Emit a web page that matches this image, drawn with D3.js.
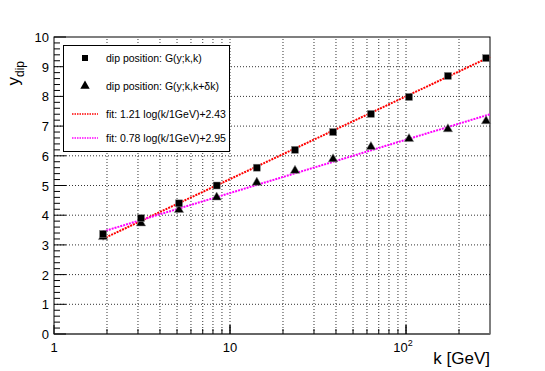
<!DOCTYPE html>
<html>
<head>
<meta charset="utf-8">
<script src="https://cdn.jsdelivr.net/npm/d3@7"></script>
<style>
  body { margin: 0; background: #fff; }
  svg { font-family: "Liberation Sans", Arial, sans-serif; }
</style>
</head>
<body>
<div id="chart"></div>
<script>
// data
const kValues = [1.9, 3.12, 5.13, 8.4, 14.2, 23.4, 38.5, 63.2, 104, 173, 285];
const yDipSame = [3.37, 3.9, 4.4, 5.0, 5.6, 6.2, 6.8, 7.41, 7.98, 8.69, 9.29];
const yDipShift = [3.27, 3.73, 4.18, 4.6, 5.1, 5.5, 5.89, 6.3, 6.57, 6.9, 7.17];
const errSame = [0.08, 0.06, 0.05, 0.04, 0.04, 0.04, 0.04, 0.04, 0.04, 0.04, 0.04];
const errShift = [0.08, 0.06, 0.05, 0.04, 0.04, 0.04, 0.04, 0.04, 0.04, 0.04, 0.04];
const fitSame = {a: 1.21, b: 2.43};
const fitShift = {a: 0.78, b: 2.95};
const legendLabels = [
  "dip position: G(y;k,k)",
  "dip position: G(y;k,k+\u03b4k)",
  "fit: 1.21 log(k/1GeV)+2.43",
  "fit: 0.78 log(k/1GeV)+2.95"
];
const yTicks = [0, 1, 2, 3, 4, 5, 6, 7, 8, 9, 10];

const W = 545, H = 371;
const margin = {top: 37, right: 55, bottom: 37, left: 54};

const svg = d3.select("#chart").append("svg")
  .attr("width", W).attr("height", H);

const x = d3.scaleLog().domain([1, 300]).range([margin.left, W - margin.right]);
const y = d3.scaleLinear().domain([0, 10]).range([H - margin.bottom, margin.top]);

const x0 = margin.left, x1 = W - margin.right, y0 = H - margin.bottom, y1 = margin.top;

// grid
const gridX = [];
for (let d = 1; d <= 100; d *= 10) {
  for (let m = 1; m <= 9; m++) {
    const v = d * m;
    if (v > 1 && v < 300) gridX.push(v);
  }
}
svg.append("g").selectAll("line").data(gridX).join("line")
  .attr("x1", d => x(d)).attr("x2", d => x(d))
  .attr("y1", y0).attr("y2", y1)
  .attr("stroke", "#333").attr("stroke-width", 1)
  .attr("stroke-dasharray", "1,2");
svg.append("g").selectAll("line").data(yTicks.filter(d => d > 0 && d < 10)).join("line")
  .attr("x1", x0).attr("x2", x1)
  .attr("y1", d => y(d)).attr("y2", d => y(d))
  .attr("stroke", "#333").attr("stroke-width", 1)
  .attr("stroke-dasharray", "1,2");

// frame
svg.append("rect")
  .attr("x", x0).attr("y", y1)
  .attr("width", x1 - x0).attr("height", y0 - y1)
  .attr("fill", "none").attr("stroke", "#000").attr("stroke-width", 1);
svg.append("line")
  .attr("x1", x0).attr("x2", x1).attr("y1", y0).attr("y2", y0)
  .attr("stroke", "#666").attr("stroke-width", 2);

// y axis ticks
const yMinor = d3.range(0, 10.001, 0.2);
svg.append("g").selectAll("line").data(yMinor).join("line")
  .attr("x1", x0).attr("x2", d => x0 + (Math.abs(d - Math.round(d)) < 1e-6 ? 12 : 6))
  .attr("y1", d => y(d)).attr("y2", d => y(d))
  .attr("stroke", "#000").attr("stroke-width", 1);
svg.append("g").selectAll("text").data(yTicks).join("text")
  .attr("x", x0 - 5).attr("y", d => y(d) + 5)
  .attr("text-anchor", "end").attr("font-size", 13)
  .text(d => d);

// x axis ticks
const xTickVals = [1, 10, 100].concat(gridX);
svg.append("g").selectAll("line").data(xTickVals).join("line")
  .attr("x1", d => x(d)).attr("x2", d => x(d))
  .attr("y1", y0).attr("y2", d => y0 - ([1, 10, 100].includes(d) ? 9 : 5))
  .attr("stroke", "#000").attr("stroke-width", 1);
svg.append("text").attr("x", x(1)).attr("y", y0 + 18)
  .attr("text-anchor", "middle").attr("font-size", 13).text("1");
svg.append("text").attr("x", x(10)).attr("y", y0 + 18)
  .attr("text-anchor", "middle").attr("font-size", 13).text("10");
const t100 = svg.append("text").attr("x", x(100) - 3).attr("y", y0 + 18)
  .attr("text-anchor", "middle").attr("font-size", 13);
t100.append("tspan").text("10");
t100.append("tspan").attr("dy", -6).attr("font-size", 9).text("2");

// axis titles
svg.append("text").attr("x", x1).attr("y", y0 + 30)
  .attr("text-anchor", "end").attr("font-size", 17).text("k [GeV]");
const yt = svg.append("text")
  .attr("transform", `translate(19,${y1 + 24}) rotate(-90)`)
  .attr("text-anchor", "end").attr("font-size", 17);
yt.append("tspan").text("y");
yt.append("tspan").attr("dy", 5).attr("font-size", 12).text("dip");

// fit lines
const fitLine = f => d3.line()
  .x(d => x(d)).y(d => y(f.a * Math.log(d) + f.b));
const fitDomain = d3.range(Math.log(kValues[0]), Math.log(300) + 1e-9, 0.05).map(Math.exp);
fitDomain.push(300);
svg.append("path").datum(fitDomain)
  .attr("d", fitLine(fitSame)).attr("fill", "none")
  .attr("stroke", "#ff0000").attr("stroke-width", 2).attr("stroke-dasharray", "2,1");
svg.append("path").datum(fitDomain)
  .attr("d", fitLine(fitShift)).attr("fill", "none")
  .attr("stroke", "#ff00ff").attr("stroke-width", 2).attr("stroke-dasharray", "2,1");

// error bars
const errBars = (vals, errs) => svg.append("g").selectAll("line").data(kValues).join("line")
  .attr("x1", d => x(d)).attr("x2", d => x(d))
  .attr("y1", (d, i) => y(vals[i] - errs[i]) + 1).attr("y2", (d, i) => y(vals[i] + errs[i]) - 1)
  .attr("stroke", "#000").attr("stroke-width", 1);
errBars(yDipShift, errShift);
errBars(yDipSame, errSame);

// markers
const tri = d3.symbol().type(d3.symbolTriangle).size(38);
svg.append("g").selectAll("path").data(kValues).join("path")
  .attr("d", tri)
  .attr("transform", (d, i) => `translate(${x(d)},${y(yDipShift[i])})`)
  .attr("fill", "#000").attr("stroke", "#888").attr("stroke-width", 0.5);
svg.append("g").selectAll("rect").data(kValues).join("rect")
  .attr("x", d => x(d) - 3.5).attr("y", (d, i) => y(yDipSame[i]) - 3.5)
  .attr("width", 7).attr("height", 7)
  .attr("fill", "#000").attr("stroke", "#888").attr("stroke-width", 0.5);

// legend
const lg = svg.append("g");
lg.append("rect").attr("x", 63.5).attr("y", 45.5).attr("width", 166).attr("height", 106)
  .attr("fill", "#fff").attr("stroke", "#000").attr("stroke-width", 1);
const rowY = [58, 86, 114, 138];
lg.selectAll("text").data(legendLabels).join("text")
  .attr("x", 106).attr("y", (d, i) => rowY[i] + 4)
  .attr("font-size", 10.5).text(d => d);
lg.append("rect").attr("x", 82).attr("y", rowY[0] - 3).attr("width", 6).attr("height", 6);
lg.append("path").attr("d", tri).attr("transform", `translate(85,${rowY[1]})`);
lg.append("line").attr("x1", 72).attr("x2", 98).attr("y1", rowY[2]).attr("y2", rowY[2])
  .attr("stroke", "#ff0000").attr("stroke-width", 1.5).attr("stroke-dasharray", "1.5,1");
lg.append("line").attr("x1", 72).attr("x2", 98).attr("y1", rowY[3]).attr("y2", rowY[3])
  .attr("stroke", "#ff00ff").attr("stroke-width", 1.5).attr("stroke-dasharray", "1.5,1");
</script>
</body>
</html>
